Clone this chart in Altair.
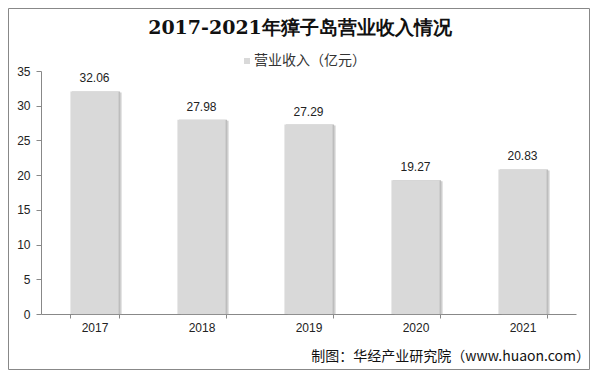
import altair as alt
import pandas as pd

years = ["2017", "2018", "2019", "2020", "2021"]
revenue = [32.06, 27.98, 27.29, 19.27, 20.83]
series_name = "营业收入（亿元）"
title_text = "2017-2021年獐子岛营业收入情况"
footer_text = "制图：华经产业研究院（www.huaon.com）"
y_ticks = [0, 5, 10, 15, 20, 25, 30, 35]

df = pd.DataFrame({"year": years, "value": revenue, "series": [series_name] * len(years)})

W, H = 535, 243
PL, PT, PR, PB = 33, 63, 14, 56

x = alt.X("year:N", title=None, sort=years,
          scale=alt.Scale(paddingInner=0.55, paddingOuter=0.275),
          axis=alt.Axis(labelAngle=0, labelFontSize=12, labelColor="#222", labelPadding=4,
                        tickBand="extent", tickSize=4, tickColor="#888", domainColor="#888",
                        labelFont="Liberation Sans"))
y = alt.Y("value:Q", title=None,
          scale=alt.Scale(domain=[0, 35], nice=False),
          axis=alt.Axis(values=y_ticks, grid=False, labelFontSize=12, labelColor="#222",
                        tickSize=5, tickColor="#888", domainColor="#888", labelPadding=6,
                        labelFont="Liberation Sans"))

base = alt.Chart(df)

shadow = base.mark_bar(xOffset=3, yOffset=1, color="#9a9a9a", opacity=0.45).encode(x=x, y=y)
shadow2 = base.mark_bar(xOffset=1.5, color="#bdbdbd").encode(x=x, y=y)
bars = base.mark_bar(color="#d9d9d9").encode(
    x=x, y=y,
    color=alt.Color("series:N", scale=alt.Scale(range=["#d9d9d9"]),
                    legend=alt.Legend(title=None, orient="none", legendX=199, legendY=-17,
                                      symbolType="square", symbolSize=36, labelFontSize=14,
                                      labelColor="#333", labelFont="Noto Sans CJK SC",
                                      symbolStrokeWidth=0, labelOffset=0)))
labels = base.mark_text(dy=-13, fontSize=12, color="#222", font="Liberation Sans").encode(
    x=x, y=y, text=alt.Text("value:Q", format=".2f"))

title = alt.Chart(pd.DataFrame({"t": [title_text]})).mark_text(
    align="center", baseline="middle", fontSize=19, font="DejaVu Serif", fontWeight="bold",
    color="#111"
).encode(x=alt.value(259), y=alt.value(-43), text="t:N")

footer = alt.Chart(pd.DataFrame({"t": [footer_text]})).mark_text(
    align="right", baseline="middle", fontSize=14, color="#111", font="Noto Sans CJK SC"
).encode(x=alt.value(W + 14), y=alt.value(H + 43), text="t:N")

border = alt.Chart(pd.DataFrame({"a": [0]})).mark_rect(
    fill=None, stroke="#888", strokeWidth=1
).encode(x=alt.value(-PL + 0.5), x2=alt.value(W + PR - 0.5),
         y=alt.value(-PT + 0.5), y2=alt.value(H + PB - 0.5))

chart = alt.layer(border, shadow, shadow2, bars, labels, title, footer).properties(
    width=W, height=H,
    autosize=alt.AutoSizeParams(type="none"),
    padding={"left": PL, "top": PT, "right": PR, "bottom": PB},
).configure_view(stroke=None)

chart.save("out.html", embed_options={"renderer": "svg", "actions": False})
